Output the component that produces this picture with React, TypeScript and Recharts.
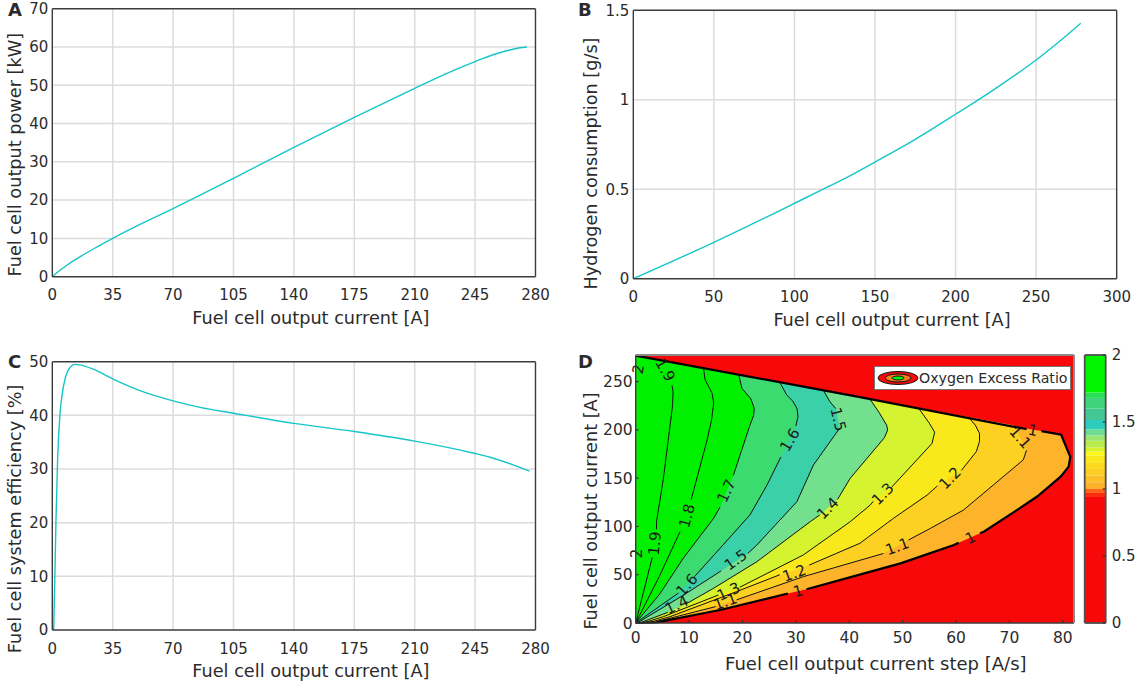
import React from 'react';
import {
    BarChart,
    Bar,
    CartesianGrid,
    LineChart,
    Line,
    Legend,
    Scatter,
    ScatterChart,
    XAxis,
    YAxis,
} from 'recharts';

// panel A
const powerCurrent = [0, 3, 8, 17.5, 26, 35, 52, 70, 105, 140, 175, 210, 228, 245, 255, 265, 271, 275];
const powerValues = [0, 1.15, 2.85, 5.6, 7.8, 10, 13.9, 17.8, 25.7, 33.8, 41.6, 49.2, 53, 56.2, 57.9, 59.2, 59.8, 60];

// panel B
const hydrogenCurrent = [0, 50, 100, 116, 135, 150, 175, 200, 225, 250, 265, 277.7];
const hydrogenValues = [0, 0.203, 0.421, 0.492, 0.578, 0.652, 0.779, 0.919, 1.064, 1.222, 1.33, 1.428];

// panel C
const efficiencyCurrent = [0.8, 1.5, 2.1, 3.1, 4.4, 5.4, 7.7, 10.2, 13.1, 16, 23.8, 35, 50.8, 70, 85.6, 105, 140, 175, 210, 245, 253.7, 276.5];
const efficiencyValues = [0, 10.2, 20, 32, 40, 43.2, 47.2, 48.9, 49.5, 49.4, 48.6, 46.8, 44.6, 42.7, 41.5, 40.4, 38.5, 37, 35.2, 32.9, 32.2, 29.6];

// panel D, contours as [step, current] runs, broken where the inline labels sit
const plotCorners = [[0, 0], [82.1, 0], [82.1, 277.6], [0, 277.6]];
const contour1 = [
    [[0, 277], [42, 234], [73, 201], [73.2, 201.5]],
    [[76, 198.8], [79.7, 195], [81.4, 172], [81.1, 162], [79.6, 151.6], [75.2, 131], [71.4, 117], [65.2, 94.6], [64.5, 93]],
    [[60.5, 83], [59.6, 80.8], [49.6, 61.8], [44, 53.2], [32, 35]],
    [[28.5, 30.5], [15.8, 13.5], [3.9, 0.7], [0, 0]],
];
const contour11 = [
    [[4, 1.5], [15, 17]],
    [[18.9, 24], [31.4, 48], [46.4, 72]],
    [[51.1, 86], [55.2, 98], [61.4, 117], [67, 143], [72.6, 169], [73.2, 179]],
    [[71.2, 201], [70.9, 204.5]],
];
const contour12 = [
    [[2.7, 0.7], [6.4, 6.5], [18.9, 32.5], [27, 50]],
    [[32.5, 60], [42, 82.6], [48.3, 108.5], [54.6, 132.6], [56.5, 142]],
    [[61, 158], [63.8, 177.5], [64.4, 188], [64.4, 196.5], [63.6, 205], [62.4, 212.7]],
];
const contour13 = [
    [[1.8, 0.7], [5.2, 6.6], [15.5, 29]],
    [[19.5, 37], [31.4, 70.5], [40.2, 105], [43.9, 122], [44.5, 126]],
    [[48, 141], [55.5, 186], [56, 197.6], [55, 207], [53, 222.4]],
];
const contour14 = [
    [[1.1, 0.7], [6, 11]],
    [[9.5, 20], [14.6, 36], [22.7, 63.5], [32.7, 105], [34.5, 112]],
    [[37.8, 128], [40.2, 150], [46.6, 192], [47.2, 200], [47, 205], [45.6, 218], [43.9, 231.8]],
];
const contour15 = [
    [[0.5, 0.7], [9, 29], [16, 54]],
    [[21, 72], [22.7, 80.8], [30.2, 125.7], [33.3, 163.7], [38.2, 201.7]],
    [[37.5, 222], [36.4, 229], [35.2, 240.7]],
];
const contour16 = [
    [[0, 0], [8, 31]],
    [[11, 48], [15.8, 77.4], [21.4, 112], [24.6, 143], [27.2, 172]],
    [[30, 204], [30.4, 214], [30.2, 222.4], [29.4, 230], [28.3, 236], [27, 249.2]],
];
const contour17 = [
    [[0, 0], [4.5, 30], [8.9, 67], [14.6, 108.5], [15.8, 120]],
    [[18.3, 153], [21.4, 205], [22.1, 215], [22.2, 222.4], [21.6, 232], [19.9, 243], [19.3, 257]],
];
const contour18 = [
    [[0, 0], [4.4, 48], [8.3, 94.6]],
    [[10.4, 128], [13.3, 188], [14.2, 210], [14.6, 227.6], [14.3, 238], [13, 252], [12.7, 264]],
];
const contour19 = [
    [[0, 0], [3.1, 68]],
    [[3.9, 97], [3.9, 105], [5.2, 150], [6.9, 225], [7, 239.7], [6.8, 246]],
];
const bandColors = ['#FDB42A', '#FCD122', '#F9E81C', '#D5F32E', '#72E08C', '#3AD0A8', '#3CDB70', '#00F000'];
const bandContours = [contour1, contour11, contour12, contour13, contour14, contour15, contour16, contour17];
const lineContours = [contour11, contour12, contour13, contour14, contour15, contour16, contour17, contour18, contour19];

const contourLabels = [
    { x: 3.6, y: 82.5, text: '1.9' }, { x: 5.5, y: 262, text: '1.9' },
    { x: 9.6, y: 111, text: '1.8' }, { x: 17, y: 136.8, text: '1.7' },
    { x: 9.6, y: 39.4, text: '1.6' }, { x: 28.9, y: 189.6, text: '1.6' },
    { x: 18.75, y: 65.3, text: '1.5' }, { x: 37.9, y: 211, text: '1.5' },
    { x: 7.7, y: 18.7, text: '1.4' }, { x: 36, y: 118.8, text: '1.4' },
    { x: 17.4, y: 32.5, text: '1.3' }, { x: 46.3, y: 133.7, text: '1.3' },
    { x: 29.7, y: 51.5, text: '1.2' }, { x: 58.9, y: 150, text: '1.2' },
    { x: 16.8, y: 22, text: '1.1' }, { x: 49, y: 79, text: '1.1' }, { x: 72, y: 192, text: '1.1' },
    { x: 30.4, y: 33, text: '1' }, { x: 62.7, y: 88, text: '1' }, { x: 74.4, y: 199.5, text: '1' },
    { x: 0.5, y: 263, text: '2' }, { x: 0.3, y: 72, text: '2' },
];
const contourLabelAngles = [-85, 60, -75, -65, -48, -60, -35, 75, -25, -45, -25, -45, -20, -45, -20, -20, 48, -15, -25, 10, -80, -90];

// colorbar
const colorbarEdges = [0, 0.94, 0.97, 1, 1.05, 1.1, 1.15, 1.2, 1.25, 1.28, 1.31, 1.36, 1.4, 1.445, 1.515, 1.6, 1.68, 1.72, 2];
const colorbarColors = ['#F80808', '#FB2E12', '#FC6420', '#FDB12A', '#FDBF28', '#FCCD24', '#FBDA20', '#FAE81C', '#F8F716', '#D6F22D', '#BAEC4E', '#9AE570', '#6FDC92', '#2DCDBD', '#45C695', '#3FD37A', '#28DE55', '#00F500'];

const ink = '#2b2b2b';
const frame = { stroke: '#3c3c3c', strokeWidth: 1.4 };
const tickMark = { stroke: '#333333', strokeWidth: 1.2 };
const gridColor = '#dcdcdc';
const fontFamily = '"DejaVu Sans", sans-serif';
const tickStyle = { fontSize: 15, fill: ink, fontFamily };
const contourTickStyle = { fontSize: 15.5, fill: ink, fontFamily };
const titleStyle = { fontSize: 17.7, fill: ink, fontFamily };

const toPoints = (run: number[][]) => run.map(([x, y]) => ({ x, y }));
const flatten = (runs: number[][][]) => runs.reduce((all, run) => all.concat(run), [] as number[][]);
const bandPolygon = (runs: number[][][]) => toPoints([[0, 0], ...flatten(runs), [0, 277]]);
const NoDot = () => <g />;

interface LinePanelProps {
    left: number;
    top: number;
    xs: number[];
    ys: number[];
    xMax: number;
    yMax: number;
    xTicks: number[];
    yTicks: number[];
    marginTop: number;
    yWidth: number;
    plotWidth: number;
    plotHeight: number;
    yTitle: string;
    yTitleX: number;
    yTitleShift: number;
}

const LinePanel: React.FC<LinePanelProps> = ({ left, top, xs, ys, xMax, yMax, xTicks, yTicks, marginTop, yWidth, plotWidth, plotHeight, yTitle, yTitleX, yTitleShift }) => {
    const data = xs.map((x, i) => ({ x, y: ys[i] }));
    return (
        <div style={{ position: 'absolute', left, top }}>
            <LineChart
                width={yWidth + plotWidth + 24}
                height={marginTop + plotHeight + 58}
                data={data}
                margin={{ top: marginTop - 1, right: 23, bottom: 8, left: 0 }}
            >
                <CartesianGrid stroke={gridColor} strokeWidth={1.5} horizontalValues={yTicks.slice(1, -1)} verticalValues={xTicks.slice(1, -1)} />
                <Line dataKey="y" type="monotone" stroke="#14C6C8" strokeWidth={1.4} dot={false} isAnimationActive={false} />
                <XAxis
                    dataKey="x"
                    type="number"
                    domain={[0, xMax]}
                    ticks={xTicks}
                    height={50}
                    tickLine={false}
                    tickSize={0}
                    tickMargin={13}
                    interval={0}
                    axisLine={frame}
                    tick={tickStyle}
                    label={{ value: 'Fuel cell output current [A]', position: 'insideBottom', offset: 3, dx: 17, style: titleStyle }}
                />
                <YAxis
                    type="number"
                    domain={[0, yMax]}
                    ticks={yTicks}
                    width={yWidth}
                    tickLine={false}
                    tickSize={0}
                    tickMargin={4}
                    interval={0}
                    axisLine={frame}
                    tick={tickStyle}
                    label={{ value: yTitle, angle: -90, position: 'insideLeft', offset: yTitleX, dy: yTitleShift, style: { ...titleStyle, textAnchor: 'middle' } }}
                />
                <XAxis xAxisId="top" orientation="top" type="number" domain={[0, xMax]} ticks={xTicks} height={1} tick={false} tickLine={false} axisLine={frame} />
                <YAxis yAxisId="right" orientation="right" type="number" domain={[0, yMax]} ticks={yTicks} width={1} tick={false} tickSize={-4} tickLine={tickMark} axisLine={frame} />
            </LineChart>
        </div>
    );
};

const OxygenLegend = () => (
    <div style={{ width: 195, height: 22, background: '#fff', border: '1px solid #777', display: 'flex', alignItems: 'center', fontFamily, fontSize: 14.2, color: ink, whiteSpace: 'nowrap' }}>
        <svg width={44} height={22}>
            <ellipse cx={23} cy={11} rx={20} ry={6.5} fill="#F80808" stroke="#111" />
            <ellipse cx={23} cy={11} rx={13} ry={4} fill="#FC7A20" stroke="#111" />
            <ellipse cx={23} cy={11} rx={6} ry={2} fill="#00F000" stroke="#111" />
        </svg>
        Oxygen Excess Ratio
    </div>
);

const ContourPanel = () => {
    const stepTicks = [0, 10, 20, 30, 40, 50, 60, 70, 80];
    const currentTicks = [0, 50, 100, 150, 200, 250];
    return (
        <div style={{ position: 'absolute', left: 570, top: 345 }}>
            <ScatterChart width={510} height={342} margin={{ top: 9, right: 5, bottom: 14, left: 0 }}>
                <Scatter data={toPoints(plotCorners)} shape={NoDot} lineJointType="linearClosed" line={{ fill: '#F80808', stroke: 'none' }} isAnimationActive={false} />
                {bandContours.map((runs, i) => (
                    <Scatter key={i} data={bandPolygon(runs)} shape={NoDot} lineJointType="linearClosed" line={{ fill: bandColors[i], stroke: 'none' }} isAnimationActive={false} />
                ))}
                {lineContours.map((runs, i) =>
                    runs.map((run, j) => (
                        <Scatter key={`${i}-${j}`} data={toPoints(run)} shape={NoDot} lineJointType="linear" line={{ stroke: '#111', strokeWidth: 1, fill: 'none' }} isAnimationActive={false} />
                    ))
                )}
                {contour1.map((run, j) => (
                    <Scatter key={`edge-${j}`} data={toPoints(run)} shape={NoDot} lineJointType="linear" line={{ stroke: '#000', strokeWidth: 2.2, fill: 'none' }} isAnimationActive={false} />
                ))}
                <Scatter
                    data={contourLabels}
                    isAnimationActive={false}
                    shape={(props: any) => {
                        const angle = contourLabelAngles[contourLabels.indexOf(props.payload)] ?? 0;
                        return (
                            <text
                                x={props.cx}
                                y={props.cy}
                                transform={`rotate(${angle} ${props.cx} ${props.cy})`}
                                textAnchor="middle"
                                dominantBaseline="central"
                                fontSize={15}
                                fontFamily={fontFamily}
                                fill="#1a1a1a"
                            >
                                {props.payload.text}
                            </text>
                        );
                    }}
                />
                <XAxis
                    dataKey="x"
                    type="number"
                    domain={[0, 82.1]}
                    ticks={stepTicks}
                    height={50}
                    tickSize={-3}
                    tickMargin={12}
                    interval={0}
                    zIndex={800}
                    axisLine={frame}
                    tickLine={tickMark}
                    tick={contourTickStyle}
                    label={{ value: 'Fuel cell output current step [A/s]', position: 'insideBottom', offset: 3, dx: 21, style: { ...titleStyle, fontSize: 18 } }}
                />
                <YAxis
                    dataKey="y"
                    type="number"
                    domain={[0, 277.6]}
                    ticks={currentTicks}
                    width={65.7}
                    tickSize={-3}
                    tickMargin={6}
                    interval={0}
                    zIndex={800}
                    axisLine={frame}
                    tickLine={tickMark}
                    tick={contourTickStyle}
                    label={{ value: 'Fuel cell output current [A]', angle: -90, position: 'insideLeft', offset: 21, dy: 22, style: { ...titleStyle, textAnchor: 'middle' } }}
                />
                <XAxis xAxisId="top" orientation="top" type="number" domain={[0, 82.1]} ticks={stepTicks} height={1} tick={false} tickSize={-3} zIndex={800} axisLine={{ stroke: '#8a8a8a', strokeWidth: 2 }} tickLine={tickMark} />
                <YAxis yAxisId="right" orientation="right" type="number" domain={[0, 277.6]} ticks={currentTicks} width={1} tick={false} tickSize={-3} zIndex={800} axisLine={{ stroke: '#8a8a8a', strokeWidth: 2 }} tickLine={tickMark} />
                <Legend verticalAlign="middle" align="center" layout="horizontal" content={OxygenLegend} wrapperStyle={{ left: 304, top: 21, width: 197, bottom: 'auto', right: 'auto', margin: 0 }} />
            </ScatterChart>
        </div>
    );
};

const Colorbar = () => {
    const row: Record<string, number | string> = { name: 'ratio' };
    colorbarColors.forEach((_, i) => {
        row[`s${i}`] = colorbarEdges[i + 1] - colorbarEdges[i];
    });
    const edge = { stroke: '#505050', strokeWidth: 1.8 };
    return (
        <div style={{ position: 'absolute', left: 1070, top: 345 }}>
            <BarChart width={71} height={330} data={[row]} barCategoryGap={0} margin={{ top: 9, right: 0, bottom: 51, left: 13.7 }}>
                {colorbarColors.map((color, i) => (
                    <Bar key={i} dataKey={`s${i}`} stackId="bar" fill={color} isAnimationActive={false} />
                ))}
                <XAxis dataKey="name" height={1} tick={false} tickLine={false} axisLine={edge} zIndex={800} />
                <XAxis xAxisId="top" dataKey="name" orientation="top" height={1} tick={false} tickLine={false} axisLine={edge} zIndex={800} />
                <YAxis yAxisId={0} orientation="right" type="number" domain={[0, 2]} ticks={[0, 0.5, 1, 1.5, 2]} width={35.3} tickSize={-3} tickMargin={9} interval={0} axisLine={edge} tickLine={tickMark} tick={tickStyle} zIndex={800} />
                <YAxis yAxisId="left" orientation="left" type="number" domain={[0, 2]} width={1} tick={false} tickLine={false} axisLine={edge} zIndex={800} />
            </BarChart>
        </div>
    );
};

const panelLetters = [
    { text: 'A', left: 8, top: 0 },
    { text: 'B', left: 578, top: 0 },
    { text: 'C', left: 8, top: 352 },
    { text: 'D', left: 578, top: 352 },
];

const App: React.FC = () => (
    <div style={{ position: 'absolute', left: 0, top: 0, width: 1141, height: 687, overflow: 'hidden', background: '#fff', fontFamily }}>
        <LinePanel left={0} top={0} xs={powerCurrent} ys={powerValues} xMax={280} yMax={70} xTicks={[0, 35, 70, 105, 140, 175, 210, 245, 280]} yTicks={[0, 10, 20, 30, 40, 50, 60, 70]} marginTop={8.7} yWidth={52.3} plotWidth={483.2} plotHeight={268} yTitle="Fuel cell output power [kW]" yTitleX={15} yTitleShift={12} />
        <LinePanel left={570} top={0} xs={hydrogenCurrent} ys={hydrogenValues} xMax={300} yMax={1.5} xTicks={[0, 50, 100, 150, 200, 250, 300]} yTicks={[0, 0.5, 1, 1.5]} marginTop={10.3} yWidth={63.3} plotWidth={483.4} plotHeight={268.4} yTitle="Hydrogen consumption [g/s]" yTitleX={20.7} yTitleShift={19} />
        <LinePanel left={0} top={345} xs={efficiencyCurrent} ys={efficiencyValues} xMax={280} yMax={50} xTicks={[0, 35, 70, 105, 140, 175, 210, 245, 280]} yTicks={[0, 10, 20, 30, 40, 50]} marginTop={16.7} yWidth={52.3} plotWidth={483.2} plotHeight={268.3} yTitle="Fuel cell system efficiency [%]" yTitleX={15} yTitleShift={23} />
        <ContourPanel />
        <Colorbar />
        {panelLetters.map((letter) => (
            <div key={letter.text} style={{ position: 'absolute', left: letter.left, top: letter.top, fontWeight: 700, fontSize: 18, lineHeight: '20px', color: ink }}>
                {letter.text}
            </div>
        ))}
    </div>
);

export default App;
